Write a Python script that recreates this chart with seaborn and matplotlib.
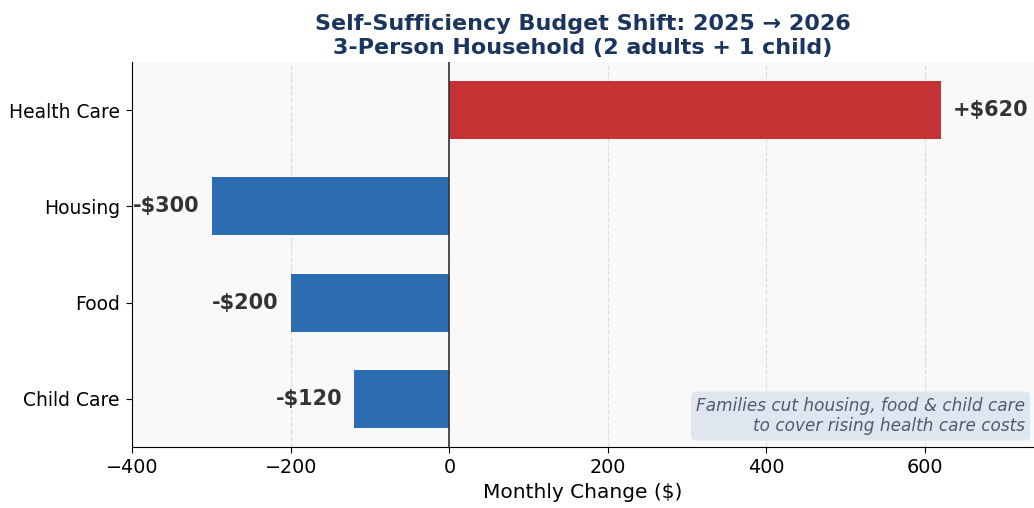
import matplotlib
matplotlib.use("Agg")
import matplotlib.pyplot as plt
import seaborn as sns
import pandas as pd

# Data
categories = ["Health Care", "Housing", "Food", "Child Care"]
changes = [620, -300, -200, -120]
labels = ["+$620", "-$300", "-$200", "-$120"]

RED = "#c43233"
BLUE = "#2c6cb0"

plt.rcParams["font.family"] = ["DejaVu Sans"]

df = pd.DataFrame({"category": categories, "change": changes})
colors = [RED if v > 0 else BLUE for v in changes]

fig, ax = plt.subplots(figsize=(10.34, 5.08), dpi=100)
ax.set_facecolor("#f9f9f9")

sns.barplot(data=df, x="change", y="category", hue="category", palette=colors,
            legend=False, width=0.6, saturation=1, ax=ax, zorder=3)

ax.axvline(0, color="#333333", linewidth=1.2, zorder=4)
ax.grid(axis="x", linestyle="--", color="#dddddd", linewidth=0.9, zorder=0)
ax.set_axisbelow(True)

for i, (v, lab) in enumerate(zip(changes, labels)):
    if v > 0:
        ax.text(v + 15, i, lab, ha="left", va="center", fontsize=15,
                fontweight="bold", color="#333333", zorder=5)
    else:
        ax.text(v - 15, i, lab, ha="right", va="center", fontsize=15,
                fontweight="bold", color="#333333", zorder=5)

ax.set_xlim(-400, 620 * 1.19)
ax.set_ylim(3.5, -0.5)
ax.set_xticks([-400, -200, 0, 200, 400, 600])
ax.tick_params(axis="x", labelsize=13.8, length=4.5, pad=3.5)
ax.tick_params(axis="y", labelsize=13.5, length=4.5, pad=4.5)
ax.set_xlabel("Monthly Change ($)", fontsize=14.5)
ax.set_ylabel("")
sns.despine(ax=ax, top=True, right=True)

ax.set_title("Self-Sufficiency Budget Shift: 2025 \u2192 2026\n3-Person Household (2 adults + 1 child)",
             fontsize=16, fontweight="bold", color="#1b355e", pad=6)

ax.text(0.99, 0.03, "Families cut housing, food & child care\nto cover rising health care costs",
        transform=ax.transAxes, ha="right", va="bottom", fontsize=12.2, style="italic",
        color="#4f5b6e", zorder=6,
        bbox=dict(boxstyle="round,pad=0.3", facecolor="#dfe6ef", edgecolor="none"))

fig.subplots_adjust(left=0.128, right=1.0, top=0.878, bottom=0.12)
fig.savefig("out.png", dpi=100)
